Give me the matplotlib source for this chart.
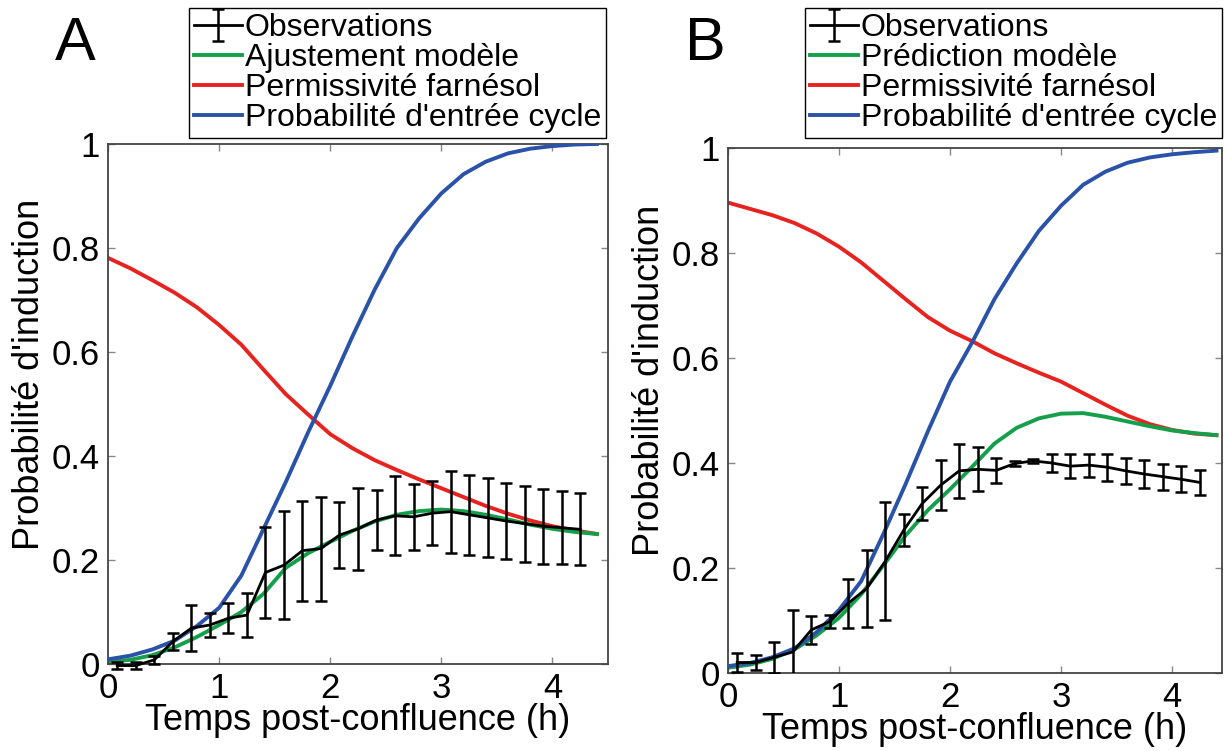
"""
Farnesol induction model vs. observations, panels A (fit) and B (prediction).
Saves out.png.
"""

import matplotlib
matplotlib.use("Agg")
import matplotlib.pyplot as plt


OUT_PNG = "out.png"

GREEN = "#14a04a"
RED   = "#e8231f"
BLUE  = "#2a52a8"

# observation times (h), same grid in both panels
OBS_T = [0.083, 0.25, 0.417, 0.583, 0.75, 0.917, 1.083, 1.25, 1.417, 1.583,
         1.75, 1.917, 2.083, 2.25, 2.417, 2.583, 2.75, 2.917, 3.083, 3.25,
         3.417, 3.583, 3.75, 3.917, 4.083, 4.25]

# model curve times (h)
CURVE_T = [0.0, 0.2, 0.4, 0.6, 0.8, 1.0, 1.2, 1.4, 1.6, 1.8, 2.0, 2.2,
           2.4, 2.6, 2.8, 3.0, 3.2, 3.4, 3.6, 3.8, 4.0, 4.2, 4.4]

# --- panel A ---
A_OBS = [-0.003, -0.003, 0.008, 0.043, 0.069, 0.075, 0.088, 0.094, 0.176, 0.19,
         0.218, 0.222, 0.248, 0.26, 0.277, 0.285, 0.283, 0.29, 0.293, 0.287,
         0.281, 0.275, 0.27, 0.265, 0.262, 0.259]
A_ERR = [0.006, 0.006, 0.008, 0.016, 0.044, 0.023, 0.029, 0.042, 0.088, 0.104,
         0.096, 0.1, 0.063, 0.079, 0.058, 0.076, 0.063, 0.061, 0.079, 0.077,
         0.076, 0.073, 0.073, 0.072, 0.07, 0.069]
A_FIT = [0.004, 0.008, 0.017, 0.032, 0.052, 0.075, 0.1, 0.135, 0.185, 0.213,
         0.235, 0.256, 0.274, 0.287, 0.294, 0.297, 0.294, 0.287, 0.278, 0.268,
         0.26, 0.254, 0.25]
A_FARN = [0.781, 0.761, 0.738, 0.714, 0.686, 0.652, 0.614, 0.566, 0.519, 0.48,
          0.442, 0.415, 0.392, 0.373, 0.355, 0.338, 0.321, 0.304, 0.289, 0.276,
          0.265, 0.257, 0.25]
A_CYCLE = [0.009, 0.016, 0.028, 0.045, 0.073, 0.108, 0.17, 0.26, 0.35, 0.445,
           0.535, 0.63, 0.72, 0.8, 0.857, 0.905, 0.942, 0.966, 0.982, 0.991,
           0.996, 0.999, 1.0]

# --- panel B ---
B_OBS = [0.02, 0.02, 0.03, 0.04, 0.082, 0.098, 0.133, 0.161, 0.213, 0.272,
         0.323, 0.358, 0.385, 0.388, 0.386, 0.399, 0.404, 0.4, 0.394, 0.396,
         0.392, 0.385, 0.379, 0.374, 0.369, 0.363]
B_ERR = [0.018, 0.015, 0.03, 0.08, 0.027, 0.012, 0.047, 0.074, 0.112, 0.031,
         0.032, 0.047, 0.051, 0.042, 0.024, 0.004, 0.004, 0.017, 0.023, 0.022,
         0.026, 0.025, 0.026, 0.025, 0.025, 0.024]
B_PRED = [0.01, 0.016, 0.027, 0.045, 0.072, 0.105, 0.15, 0.205, 0.262, 0.31,
          0.35, 0.393, 0.437, 0.467, 0.485, 0.494, 0.495, 0.488, 0.479, 0.47,
          0.462, 0.457, 0.453]
B_FARN = [0.896, 0.884, 0.872, 0.857, 0.837, 0.812, 0.782, 0.747, 0.712, 0.678,
          0.652, 0.632, 0.609, 0.59, 0.572, 0.555, 0.533, 0.511, 0.49, 0.474,
          0.463, 0.456, 0.453]
B_CYCLE = [0.013, 0.019, 0.03, 0.047, 0.078, 0.12, 0.175, 0.265, 0.36, 0.46,
           0.555, 0.63, 0.712, 0.78, 0.842, 0.89, 0.93, 0.955, 0.972, 0.982,
           0.988, 0.992, 0.995]

X_TICKS = [0, 1, 2, 3, 4]
Y_TICKS = [0, 0.2, 0.4, 0.6, 0.8, 1]
Y_TICKLABELS = ["0", "0.2", "0.4", "0.6", "0.8", "1"]

plt.rcParams["font.family"] = ["Liberation Sans", "DejaVu Sans"]


def draw_panel(fig, rect, obs, err, model, farn, cycle, model_label,
               xmax, obs_clip, legend_anchor, letter, letter_xy):
    ax = fig.add_axes(rect)
    h_obs = ax.errorbar(OBS_T, obs, yerr=err, color="black", lw=2.0,
                        capsize=4, capthick=1.8, elinewidth=1.8, zorder=4)
    for line in [h_obs.lines[0]] + list(h_obs.lines[1]) + list(h_obs.lines[2]):
        line.set_clip_on(obs_clip)
    # red first, green on top of it where they merge
    h_farn, = ax.plot(CURVE_T, farn, color=RED, lw=2.8, zorder=2)
    h_mod, = ax.plot(CURVE_T, model, color=GREEN, lw=2.8, zorder=2.5)
    h_cyc, = ax.plot(CURVE_T, cycle, color=BLUE, lw=2.8, zorder=3)

    ax.set_xlim(0, xmax)
    ax.set_ylim(0, 1)
    ax.set_xticks(X_TICKS)
    ax.set_yticks(Y_TICKS)
    ax.set_yticklabels(Y_TICKLABELS)
    ax.tick_params(direction="in", length=5, width=1, color="#888888",
                   top=True, right=True, labelsize=25, pad=6)
    for s in ax.spines.values():
        s.set_color("#444444")
        s.set_linewidth(1.3)
    ax.set_xlabel("Temps post-confluence (h)", fontsize=26, labelpad=-2)
    ax.set_ylabel("Probabilité d'induction", fontsize=26)
    # label sits a bit above the axis middle in the original
    ax.yaxis.set_label_coords(-0.122 * 500 / (rect[2] * 1226), 0.557)

    fig.legend([h_obs, h_mod, h_farn, h_cyc],
               ["Observations", model_label, "Permissivité farnésol",
                "Probabilité d'entrée cycle"],
               loc="upper right", bbox_to_anchor=legend_anchor,
               fontsize=23, frameon=True, fancybox=False, edgecolor="black",
               framealpha=1, borderpad=0.15, labelspacing=0.0,
               handlelength=1.5, handletextpad=0.1, borderaxespad=0.0)
    fig.text(letter_xy[0], letter_xy[1], letter, fontsize=44,
             ha="center", va="center")
    return ax


def main():
    fig = plt.figure(figsize=(12.26, 7.51), dpi=100)
    W, H = 1226.0, 751.0

    draw_panel(fig, [108 / W, 87 / H, 500 / W, 520 / H],
               A_OBS, A_ERR, A_FIT, A_FARN, A_CYCLE, "Ajustement modèle",
               4.5, False, (606 / W, 1 - 8 / H), "A", (75 / W, 1 - 45 / H))
    draw_panel(fig, [728 / W, 78 / H, 494 / W, 525 / H],
               B_OBS, B_ERR, B_PRED, B_FARN, B_CYCLE, "Prédiction modèle",
               4.45, True, (1222 / W, 1 - 8 / H), "B", (705 / W, 1 - 45 / H))

    fig.savefig(OUT_PNG, dpi=100)
    plt.close(fig)


if __name__ == "__main__":
    main()
